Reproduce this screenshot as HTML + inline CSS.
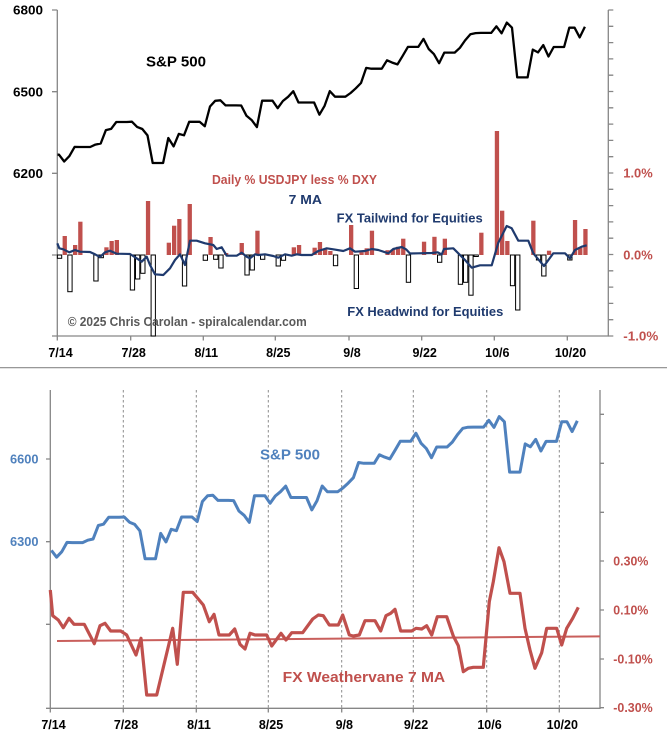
<!DOCTYPE html>
<html><head><meta charset="utf-8"><style>
html,body{margin:0;padding:0;background:#fff;}
svg{display:block;}
text{font-family:"Liberation Sans",sans-serif;font-weight:bold;}
</style></head><body>
<svg width="667" height="744" viewBox="0 0 667 744" xmlns="http://www.w3.org/2000/svg">
<rect width="667" height="744" fill="#fff"/>

<!-- ===== TOP CHART ===== -->
<g stroke="#868686" stroke-width="1.3" fill="none">
<path d="M57.3,10V336H608.3V10"/>
<path d="M52,10H57.3M52,91.7H57.3M52,173.3H57.3M52,255H57.3M52,336H57.3"/>
<path d="M608.3,10H613.3M608.3,26.3H613.3M608.3,42.6H613.3M608.3,58.9H613.3M608.3,75.2H613.3M608.3,91.5H613.3M608.3,107.8H613.3M608.3,124.1H613.3M608.3,140.4H613.3M608.3,156.7H613.3M608.3,173H613.3M608.3,189.3H613.3M608.3,205.6H613.3M608.3,221.9H613.3M608.3,238.2H613.3M608.3,254.5H613.3M608.3,270.8H613.3M608.3,287.1H613.3M608.3,303.4H613.3M608.3,319.7H613.3M608.3,336H613.3"/>
<path d="M57.3,336V340.5M130.7,336V340.5M203.3,336V340.5M275.3,336V340.5M349,336V340.5M421.7,336V340.5M494.3,336V340.5M567.3,336V340.5"/>
</g>

<!-- positive bars -->
<g fill="#c0504d">
<rect x="62.6" y="236" width="4.3" height="19"/>
<rect x="73.0" y="245" width="4.3" height="10"/>
<rect x="78.2" y="221.7" width="4.3" height="33.3"/>
<rect x="104.3" y="247.3" width="4.3" height="7.7"/>
<rect x="109.5" y="241" width="4.3" height="14"/>
<rect x="114.7" y="240" width="4.3" height="15"/>
<rect x="145.9" y="201" width="4.3" height="54"/>
<rect x="166.7" y="242.7" width="4.3" height="12.3"/>
<rect x="172.0" y="225.7" width="4.3" height="29.3"/>
<rect x="177.2" y="219" width="4.3" height="36"/>
<rect x="187.6" y="204" width="4.3" height="51"/>
<rect x="208.4" y="237" width="4.3" height="18"/>
<rect x="224.0" y="253" width="4.3" height="2"/>
<rect x="239.6" y="243" width="4.3" height="12"/>
<rect x="255.3" y="230.7" width="4.3" height="24.3"/>
<rect x="291.7" y="247.3" width="4.3" height="7.7"/>
<rect x="296.9" y="245" width="4.3" height="10"/>
<rect x="312.5" y="247.7" width="4.3" height="7.3"/>
<rect x="317.8" y="242" width="4.3" height="13"/>
<rect x="323.0" y="249.3" width="4.3" height="5.7"/>
<rect x="328.2" y="251" width="4.3" height="4"/>
<rect x="349.0" y="225" width="4.3" height="30"/>
<rect x="359.4" y="252.2" width="4.3" height="2.8"/>
<rect x="364.6" y="248.3" width="4.3" height="6.7"/>
<rect x="369.8" y="230.7" width="4.3" height="24.3"/>
<rect x="385.4" y="250.2" width="4.3" height="4.8"/>
<rect x="390.6" y="249.5" width="4.3" height="5.5"/>
<rect x="395.9" y="246.8" width="4.3" height="8.2"/>
<rect x="401.1" y="238.7" width="4.3" height="16.3"/>
<rect x="421.9" y="241.7" width="4.3" height="13.3"/>
<rect x="432.3" y="236.8" width="4.3" height="18.2"/>
<rect x="442.7" y="238.7" width="4.3" height="16.3"/>
<rect x="479.2" y="232.7" width="4.3" height="22.3"/>
<rect x="494.8" y="131" width="4.3" height="124"/>
<rect x="500.0" y="210.7" width="4.3" height="44.3"/>
<rect x="505.2" y="241" width="4.3" height="14"/>
<rect x="531.2" y="220.7" width="4.3" height="34.3"/>
<rect x="546.9" y="250.7" width="4.3" height="4.3"/>
<rect x="572.9" y="220" width="4.3" height="35"/>
<rect x="578.1" y="247.8" width="4.3" height="7.2"/>
<rect x="583.3" y="229" width="4.3" height="26"/>
</g>
<!-- negative bars -->
<g fill="#fff" stroke="#000" stroke-width="1">
<rect x="57.4" y="255" width="4.3" height="3.3"/>
<rect x="67.8" y="255" width="4.3" height="36.7"/>
<rect x="93.8" y="255" width="4.3" height="26"/>
<rect x="99.1" y="255" width="4.3" height="2.7"/>
<rect x="130.3" y="255" width="4.3" height="35"/>
<rect x="135.5" y="255" width="4.3" height="24"/>
<rect x="140.7" y="255" width="4.3" height="18.3"/>
<rect x="151.1" y="255" width="4.3" height="81"/>
<rect x="182.4" y="255" width="4.3" height="31"/>
<rect x="203.2" y="255" width="4.3" height="5.3"/>
<rect x="213.6" y="255" width="4.3" height="4.3"/>
<rect x="218.8" y="255" width="4.3" height="13"/>
<rect x="244.9" y="255" width="4.3" height="20"/>
<rect x="250.1" y="255" width="4.3" height="15"/>
<rect x="260.5" y="255" width="4.3" height="4.3"/>
<rect x="276.1" y="255" width="4.3" height="11"/>
<rect x="281.3" y="255" width="4.3" height="5.3"/>
<rect x="333.4" y="255" width="4.3" height="10.7"/>
<rect x="354.2" y="255" width="4.3" height="33.5"/>
<rect x="406.3" y="255" width="4.3" height="27.3"/>
<rect x="437.5" y="255" width="4.3" height="7.3"/>
<rect x="458.3" y="255" width="4.3" height="29.3"/>
<rect x="463.5" y="255" width="4.3" height="27.3"/>
<rect x="468.8" y="255" width="4.3" height="40.2"/>
<rect x="474.0" y="255" width="4.3" height="1.5"/>
<rect x="510.4" y="255" width="4.3" height="30.7"/>
<rect x="515.6" y="255" width="4.3" height="55"/>
<rect x="536.4" y="255" width="4.3" height="5"/>
<rect x="541.7" y="255" width="4.3" height="21"/>
<rect x="567.7" y="255" width="4.3" height="5"/>
</g>

<!-- 7 MA -->
<polyline fill="none" stroke="#1f3a6e" stroke-width="2.2" stroke-linejoin="round" points="57.3,243.3 59.3,248.3 63.3,249.3 69.3,252.3 75,250 80,251.7 90,252 95,254.3 100,257 105,252.3 110,250.7 116.7,253.7 130,254 136.7,258.3 141.7,261.7 146.7,256.7 150,265 155,274.3 163.3,275 170,268.3 175,260 180,254.3 185,265 190,240.7 196.7,240.7 205,243.3 213.3,245 216.7,249 221.7,247.3 226.7,255.7 236.7,255.7 241.7,252.7 246.7,256.7 250,258.3 255,254.3 258.3,255 265,254.3 273.3,256 278.3,257.7 285,254.3 291.7,255.7 296.7,254.3 301.7,255 311.7,255 318.3,251 326.7,248.3 333.3,249.3 343.3,251 350,248.3 355,251.7 365,251 371.7,249 378.3,250 388.3,253.3 393.3,249 401.7,247 406,249.3 410,253.5 418.3,253.3 431.7,253 437.7,252.3 441.7,254.5 444,249 453.3,248.3 465,260 471.7,267.7 480,265.3 491.7,265.3 498.3,242.7 506.7,226 511.7,228.3 518.3,240.7 528.3,240.7 533.3,253.3 538.3,259.3 544,266 553.3,253.3 565,253.3 570,258.3 575,250 581.7,246.7 586.7,245.3"/>

<!-- S&P 500 top -->
<polyline fill="none" stroke="#000" stroke-width="2.3" stroke-linejoin="round" points="57.5,154.7 59,154.7 64.2,161.5 69.4,156.1 74.6,146.9 79.8,147 90.2,147 95.4,144.6 100.7,143.5 105.9,130.1 111.1,128.9 116.3,122 126.7,122 131.9,121.7 137.1,126.9 142.3,129 147.5,135.4 152.7,163 163.1,163 168.3,138 173.6,146.4 178.8,133.9 184,135.3 189.2,121.8 199.6,121.8 204.8,126.2 210,106.5 215.2,100.8 220.4,100.3 225.6,105.4 236,105.4 241.2,105.5 246.5,115.8 251.7,120.1 256.9,127.1 262.1,100.7 272.5,100.7 277.7,108.2 282.9,101 288.1,96.8 293.3,91.2 298.5,102.5 314.1,102.5 319.4,114.7 324.6,105.8 329.8,91.1 335,96.7 345.4,96.7 350.6,93 355.8,88.3 361,83 366.2,67.9 371.4,68.7 381.8,68.7 387,60.3 392.2,62.6 397.5,64.4 402.7,55.8 407.9,46.9 418.3,46.9 423.5,38.9 428.7,49 433.9,54.1 439.1,63.2 444.3,52.6 454.7,52.6 459.9,47.8 465.1,40.4 470.4,34.2 475.6,33.1 480.8,32.9 491.2,32.9 496.4,26.3 501.6,33.3 506.8,22.6 512,27.7 517.2,77.4 527.6,77.4 532.8,49.6 538,52.4 543.3,45.1 548.5,56.5 553.7,47 564.1,47 569.3,27.7 574.5,27.6 579.7,37.4 584.9,26.8"/>

<!-- top labels -->
<g font-size="12.5" fill="#000" text-anchor="end">
<text x="43" y="14.5" textLength="30" lengthAdjust="spacingAndGlyphs">6800</text>
<text x="43" y="96.5" textLength="30" lengthAdjust="spacingAndGlyphs">6500</text>
<text x="43" y="178" textLength="30" lengthAdjust="spacingAndGlyphs">6200</text>
</g>
<g font-size="12.5" fill="#c0504d">
<text x="623.3" y="177.5" textLength="29.4" lengthAdjust="spacingAndGlyphs">1.0%</text>
<text x="623.3" y="259.5" textLength="29.4" lengthAdjust="spacingAndGlyphs">0.0%</text>
<text x="623.3" y="340.5" textLength="35" lengthAdjust="spacingAndGlyphs">-1.0%</text>
</g>
<g font-size="12.5" fill="#000" text-anchor="middle">
<text x="60.5" y="357.2">7/14</text>
<text x="133.7" y="357.2">7/28</text>
<text x="206.3" y="357.2">8/11</text>
<text x="278.3" y="357.2">8/25</text>
<text x="352" y="357.2">9/8</text>
<text x="424.7" y="357.2">9/22</text>
<text x="497.3" y="357.2">10/6</text>
<text x="570.5" y="357.2">10/20</text>
</g>
<text x="146" y="66.4" font-size="15" fill="#000" textLength="60" lengthAdjust="spacingAndGlyphs">S&amp;P 500</text>
<text x="212" y="184.2" font-size="12.5" fill="#c0504d" textLength="165" lengthAdjust="spacingAndGlyphs">Daily % USDJPY less % DXY</text>
<text x="288.7" y="204.2" font-size="12.5" fill="#1f3a6e" textLength="33.3" lengthAdjust="spacingAndGlyphs">7 MA</text>
<text x="336.7" y="222.5" font-size="12.5" fill="#1f3a6e" textLength="146" lengthAdjust="spacingAndGlyphs">FX Tailwind for Equities</text>
<text x="347.3" y="316" font-size="12.5" fill="#1f3a6e" textLength="156" lengthAdjust="spacingAndGlyphs">FX Headwind for Equities</text>
<text x="67.7" y="326" font-size="12.5" fill="#595959" textLength="239" lengthAdjust="spacingAndGlyphs">© 2025 Chris Carolan - spiralcalendar.com</text>

<!-- separator -->
<line x1="0" y1="367.7" x2="667" y2="367.7" stroke="#8a8a8a" stroke-width="1.2"/>

<!-- ===== BOTTOM CHART ===== -->
<g stroke="#8a8a8a" stroke-width="1" stroke-dasharray="2.5,2.5" fill="none">
<path d="M123.3,390V708M196.3,390V708M268.3,390V708M341.7,390V708M413.3,390V708M486.7,390V708M559.3,390V708"/>
</g>
<g stroke="#868686" stroke-width="1.3" fill="none">
<path d="M50.3,390V708.3H600V390"/>
<path d="M46,459H50.3M46,541.7H50.3M46,624.3H50.3M46,708.3H50.3"/>
<path d="M600,414.3H604M600,463.3H604M600,512.3H604M600,561H604M600,610H604M600,659H604M600,707.7H604"/>
<path d="M50.3,708.3V712.5M123.3,708.3V712.5M196.3,708.3V712.5M268.3,708.3V712.5M341.7,708.3V712.5M413.3,708.3V712.5M486.7,708.3V712.5M559.3,708.3V712.5"/>
</g>

<!-- trend line -->
<line x1="57" y1="641" x2="600" y2="636.4" stroke="#c95f5c" stroke-width="2"/>

<!-- blue S&P -->
<polyline transform="translate(-7.6 0)" fill="none" stroke="#4f81bd" stroke-width="3" stroke-linejoin="round" points="59,550.4 64.2,557.2 69.4,551.7 74.6,542.4 79.8,542.6 90.2,542.6 95.4,540.2 100.7,539 105.9,525.5 111.1,524.2 116.3,517.3 126.7,517.3 131.9,517 137.1,522.2 142.3,524.4 147.5,530.8 152.7,558.8 163.1,558.8 168.3,533.4 173.6,541.9 178.8,529.3 184,530.7 189.2,517 199.6,517 204.8,521.5 210,501.5 215.2,495.8 220.4,495.2 225.6,500.4 236,500.4 241.2,500.6 246.5,511 251.7,515.3 256.9,522.4 262.1,495.7 272.5,495.7 277.7,503.3 282.9,496 288.1,491.7 293.3,486.1 298.5,497.5 314.1,497.5 319.4,509.9 324.6,500.8 329.8,486 335,491.7 345.4,491.7 350.6,487.9 355.8,483.1 361,477.7 366.2,462.5 371.4,463.3 381.8,463.3 387,454.8 392.2,457.1 397.5,458.9 402.7,450.2 407.9,441.3 418.3,441.3 423.5,433.2 428.7,443.3 433.9,448.5 439.1,457.7 444.3,447 454.7,447 459.9,442.1 465.1,434.6 470.4,428.3 475.6,427.2 480.8,427.1 491.2,427.1 496.4,420.3 501.6,427.4 506.8,416.6 512,421.8 517.2,472.1 527.6,472.1 532.8,443.9 538,446.8 543.3,439.4 548.5,451 553.7,441.4 564.1,441.4 569.3,421.8 574.5,421.7 579.7,431.6 584.9,420.8"/>

<!-- red weathervane -->
<polyline fill="none" stroke="#c0504d" stroke-width="3.2" stroke-linejoin="round" points="50.3,590 52.7,615.7 58.3,620 63.3,627.7 69,618.3 74,624.3 84.3,624.3 94.3,643.7 100,625.7 105,623.3 110.7,631 120.7,631 126.7,635 136,655 141,638.3 146.7,695 156.7,695 172.7,628.3 177.3,664.3 183.3,592.3 192.7,592.3 203.3,605 209.3,621.7 214,614.3 219,635 229.3,635 234.7,629 240,644.3 245,649 250,633.3 255,635 266.7,635 271.7,646 281,633.3 286,640 291.7,632.7 302.7,632.7 312.7,619 318.3,615 323.3,615.7 329.3,625 338.3,625 342.7,615 349.3,635 353.3,636 359.3,635 365,620.7 375,620.7 380.7,631 386,615.7 390.7,613.3 395,609.3 400.7,631 411.7,631 416,628.3 421.7,629 426.7,625.7 431.7,635 437.3,616.7 446.7,616.7 453.3,636 458.3,645.7 463.3,671.7 468.3,668.3 473.3,667.3 483.3,667.3 489.3,601.7 493.3,581.7 499,547.7 504,561.7 510,593.3 520,593.3 525,628.3 530,650 535,668.3 541.7,652.7 546.7,628.3 556.7,628.3 561.7,645 566.7,628.3 572.7,618.3 578.3,607.3"/>

<!-- bottom labels -->
<g font-size="12.5" fill="#4f81bd" text-anchor="end">
<text x="38.5" y="463.5" textLength="28.5" lengthAdjust="spacingAndGlyphs">6600</text>
<text x="38.5" y="546.2" textLength="28.5" lengthAdjust="spacingAndGlyphs">6300</text>
</g>
<g font-size="12.5" fill="#c0504d">
<text x="613.3" y="565.5" textLength="35" lengthAdjust="spacingAndGlyphs">0.30%</text>
<text x="613.3" y="614.5" textLength="35" lengthAdjust="spacingAndGlyphs">0.10%</text>
<text x="613.3" y="663.5" textLength="39.4" lengthAdjust="spacingAndGlyphs">-0.10%</text>
<text x="613.3" y="712.2" textLength="39.4" lengthAdjust="spacingAndGlyphs">-0.30%</text>
</g>
<g font-size="12.5" fill="#000" text-anchor="middle">
<text x="53.5" y="728.8">7/14</text>
<text x="126" y="728.8">7/28</text>
<text x="199" y="728.8">8/11</text>
<text x="271" y="728.8">8/25</text>
<text x="344.3" y="728.8">9/8</text>
<text x="416" y="728.8">9/22</text>
<text x="489.5" y="728.8">10/6</text>
<text x="562.3" y="728.8">10/20</text>
</g>
<text x="260" y="459.5" font-size="15" fill="#4f81bd" textLength="60" lengthAdjust="spacingAndGlyphs">S&amp;P 500</text>
<text x="282.7" y="682" font-size="15" fill="#c0504d" textLength="162.5" lengthAdjust="spacingAndGlyphs">FX Weathervane 7 MA</text>
</svg>
</body></html>
